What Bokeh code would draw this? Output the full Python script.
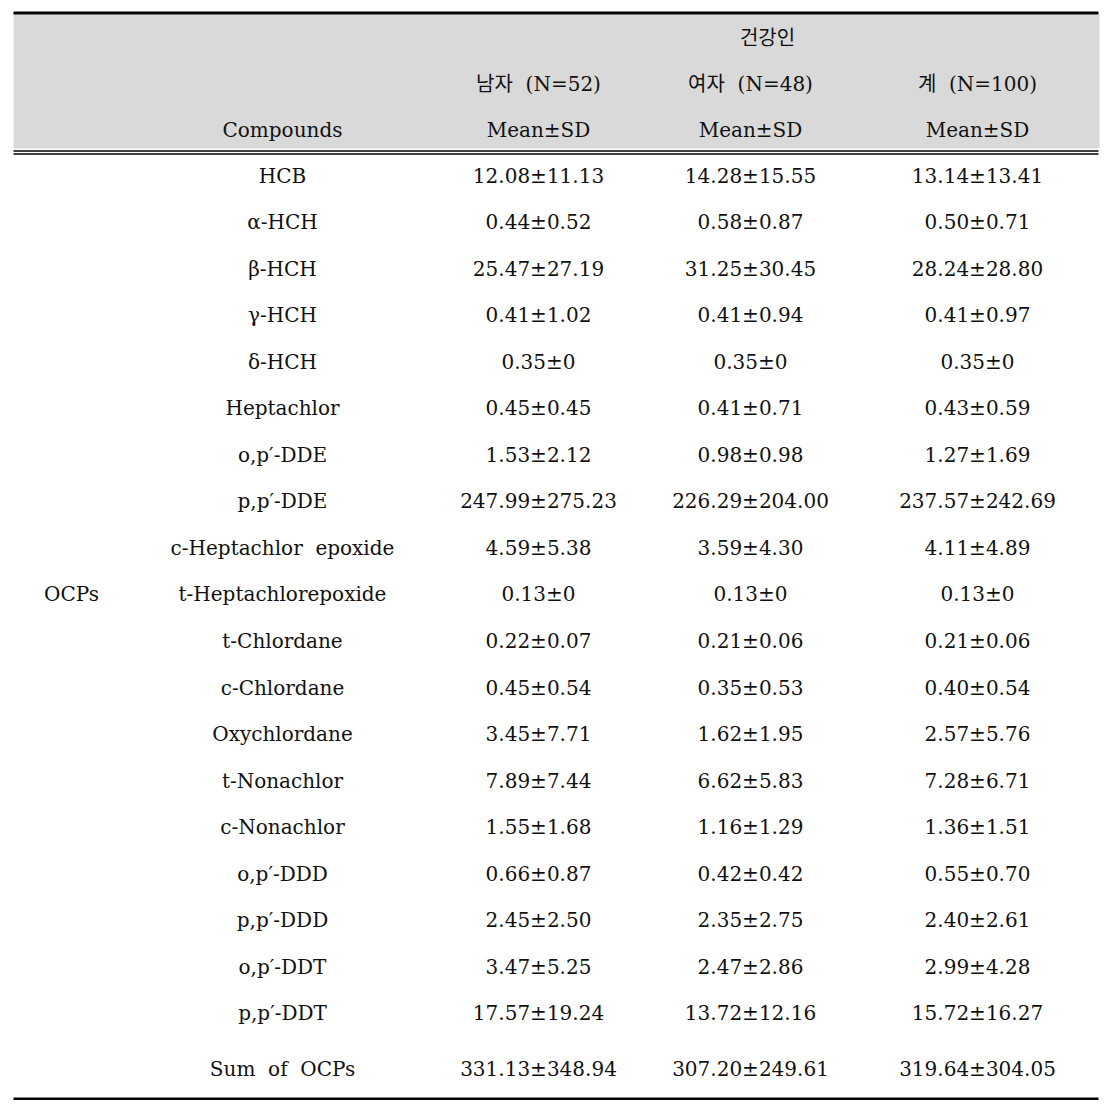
from bokeh.plotting import figure
from bokeh.models import Range1d, ColumnDataSource
from bokeh.core.properties import value
from bokeh.embed import file_html
from bokeh.resources import INLINE

# ---- data ----
group_label = "OCPs"
compounds = ["HCB", "α-HCH", "β-HCH", "γ-HCH", "δ-HCH", "Heptachlor",
             "o,p′-DDE", "p,p′-DDE", "c-Heptachlor\u00a0 epoxide", "t-Heptachlorepoxide",
             "t-Chlordane", "c-Chlordane", "Oxychlordane", "t-Nonachlor",
             "c-Nonachlor", "o,p′-DDD", "p,p′-DDD", "o,p′-DDT", "p,p′-DDT",
             "Sum\u00a0 of\u00a0 OCPs"]
male_mean = [12.08, 0.44, 25.47, 0.41, 0.35, 0.45, 1.53, 247.99, 4.59, 0.13,
             0.22, 0.45, 3.45, 7.89, 1.55, 0.66, 2.45, 3.47, 17.57, 331.13]
male_sd = [11.13, 0.52, 27.19, 1.02, 0, 0.45, 2.12, 275.23, 5.38, 0,
           0.07, 0.54, 7.71, 7.44, 1.68, 0.87, 2.50, 5.25, 19.24, 348.94]
female_mean = [14.28, 0.58, 31.25, 0.41, 0.35, 0.41, 0.98, 226.29, 3.59, 0.13,
               0.21, 0.35, 1.62, 6.62, 1.16, 0.42, 2.35, 2.47, 13.72, 307.20]
female_sd = [15.55, 0.87, 30.45, 0.94, 0, 0.71, 0.98, 204.00, 4.30, 0,
             0.06, 0.53, 1.95, 5.83, 1.29, 0.42, 2.75, 2.86, 12.16, 249.61]
total_mean = [13.14, 0.50, 28.24, 0.41, 0.35, 0.43, 1.27, 237.57, 4.11, 0.13,
              0.21, 0.40, 2.57, 7.28, 1.36, 0.55, 2.40, 2.99, 15.72, 319.64]
total_sd = [13.41, 0.71, 28.80, 0.97, 0, 0.59, 1.69, 242.69, 4.89, 0,
            0.06, 0.54, 5.76, 6.71, 1.51, 0.70, 2.61, 4.28, 16.27, 304.05]
header_top = "건강인"
group_headers = ["남자\u00a0 (N=52)", "여자\u00a0 (N=48)", "계\u00a0 (N=100)"]
stat_header = "Mean±SD"
compound_header = "Compounds"


def fmt(m, s):
    return f"{m:.2f}±" + (f"{s:.2f}" if s else "0")


# ---- layout ----
FONT = value("DejaVu Serif, Noto Sans CJK KR")
FS = value("20px")
x_group, x_comp = 71, 282
x_cols = [538, 750, 977]
row_y0, row_step = 175, 46.55
n = len(compounds)
row_y = [row_y0 + i * row_step for i in range(n - 1)] + [1068]

W, H = 1100, 1100
p = figure(width=W, height=H, output_backend="svg", toolbar_location=None,
           x_range=Range1d(0, W), y_range=Range1d(H, 0),
           x_axis_location=None, y_axis_location=None, min_border=0)
p.outline_line_color = None
p.xgrid.visible = False
p.ygrid.visible = False
p.background_fill_color = "white"
p.border_fill_color = "white"

L, R = 13, 1098
# header band and rules
p.quad(left=[L], right=[R + 1], top=[14], bottom=[148], fill_color="#d9d9d9", line_color=None)
p.quad(left=[L], right=[R], top=[11], bottom=[14], fill_color="black", line_color=None)
p.segment(x0=[L, L], x1=[R, R], y0=[150.5, 153.5], y1=[150.5, 153.5], line_color="black", line_width=1.4)
p.quad(left=[L], right=[R], top=[1097], bottom=[1100], fill_color="black", line_color=None)

def txt(xs, ys, texts):
    src = ColumnDataSource(dict(x=xs, y=ys, t=texts))
    p.text(x="x", y="y", text="t", source=src, text_font=FONT, text_font_size=FS,
           text_align="center", text_baseline="middle", text_color="#111111")

# header
txt([767], [37], [header_top])
txt(x_cols, [83] * 3, group_headers)
txt([x_comp] + x_cols, [129] * 4, [compound_header] + [stat_header] * 3)

# body
txt([x_group], [row_y[9]], [group_label])
txt([x_comp] * n, row_y, compounds)
txt([x_cols[0]] * n, row_y, [fmt(m, s) for m, s in zip(male_mean, male_sd)])
txt([x_cols[1]] * n, row_y, [fmt(m, s) for m, s in zip(female_mean, female_sd)])
txt([x_cols[2]] * n, row_y, [fmt(m, s) for m, s in zip(total_mean, total_sd)])

open("out.html", "w").write(file_html(p, INLINE))
